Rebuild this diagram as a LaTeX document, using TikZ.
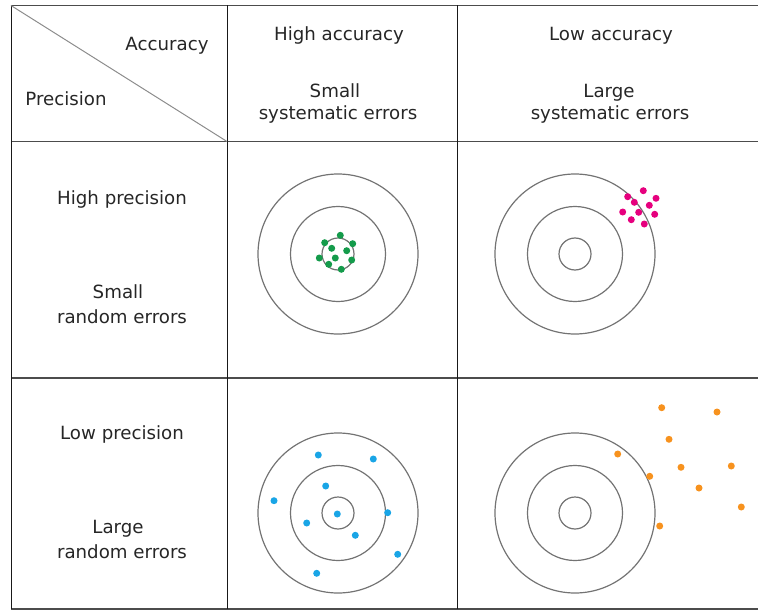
\documentclass[tikz,border=0pt]{standalone}
\usepackage{fontspec}
\setmainfont{DejaVu Sans}
\begin{document}
\begin{tikzpicture}[x=1pt,y=-1pt,
  lbl/.style={inner sep=0pt,anchor=base,text=black!85,font=\fontsize{18.2}{21}\selectfont},
  grid/.style={line width=1.1pt,draw=black!70},
  vgrid/.style={line width=1pt,draw=black!90},
  ring/.style={line width=1.2pt,draw=black!55},
  dot/.style={radius=3.5}]
\useasboundingbox (0,0) rectangle (758,610);
\definecolor{dotgreen}{RGB}{20,155,75}
\definecolor{dotpink}{RGB}{230,0,126}
\definecolor{dotblue}{RGB}{25,165,230}
\definecolor{dotorange}{RGB}{247,146,30}

% table rules
\draw[grid] (11,5.5) -- (758,5.5);
\draw[grid] (11,141.5) -- (758,141.5);
\draw[grid] (11,378) -- (758,378);
\draw[grid] (11,609) -- (758,609);
\draw[vgrid] (11,5.5) -- (11,609);
\draw[vgrid] (227,5.5) -- (227,609);
\draw[vgrid] (457,5.5) -- (457,609);
\draw[line width=1pt,draw=black!45] (11,5.5) -- (227,141.5);

% header texts
\node[lbl] (acc) at (167,51) {Accuracy};
\node[lbl] (prec) at (66,105) {Precision};
\node[lbl] (hacc) at (339,41) {High accuracy};
\node[lbl] (small1) at (335,97) {Small};
\node[lbl] (syst1) at (338,119) {systematic errors};
\node[lbl] (lacc) at (611,41) {Low accuracy};
\node[lbl] (large1) at (609,97) {Large};
\node[lbl] (syst2) at (610,119) {systematic errors};
\node[lbl] (hprec) at (122,204) {High precision};
\node[lbl] (small2) at (118,298) {Small};
\node[lbl] (rand1) at (122,323) {random errors};
\node[lbl] (lprec) at (122,439) {Low precision};
\node[lbl] (large2) at (118,533) {Large};
\node[lbl] (rand2) at (122,558) {random errors};

% targets
\foreach \cx/\cy in {338/254, 575/254, 338/513, 575/513}{
  \draw[ring] (\cx,\cy) circle (80);
  \draw[ring] (\cx,\cy) circle (47.5);
  \draw[ring] (\cx,\cy) circle (16);
}

% hits
\foreach \px/\py in {340.3/235.3, 324.7/242.7, 352.7/243.7, 331.7/248.3, 346.7/250.7,
  319.3/258, 335.3/258, 351.7/260, 328.7/264.3, 341.3/269.3}
  \fill[dotgreen] (\px,\py) circle[dot];
\foreach \px/\py in {643.3/190.7, 627.7/196.7, 656/198.3, 634.3/202.3, 649.3/205.3,
  622.7/212, 638.7/212.3, 654.7/214.3, 631.3/219.7, 644.3/224}
  \fill[dotpink] (\px,\py) circle[dot];
\foreach \px/\py in {318.3/455, 373.3/459, 325.7/486, 274/500.7, 337.3/514,
  387.7/512.7, 306.7/523, 355.3/535.3, 397.7/554.3, 316.7/573.3}
  \fill[dotblue] (\px,\py) circle[dot];
\foreach \px/\py in {661.7/407.7, 717/412, 669/439.3, 617.7/454, 681/467.3,
  731.3/466, 649.7/476.3, 699/488, 741.3/507, 659.7/526}
  \fill[dotorange] (\px,\py) circle[dot];
\end{tikzpicture}
\end{document}
